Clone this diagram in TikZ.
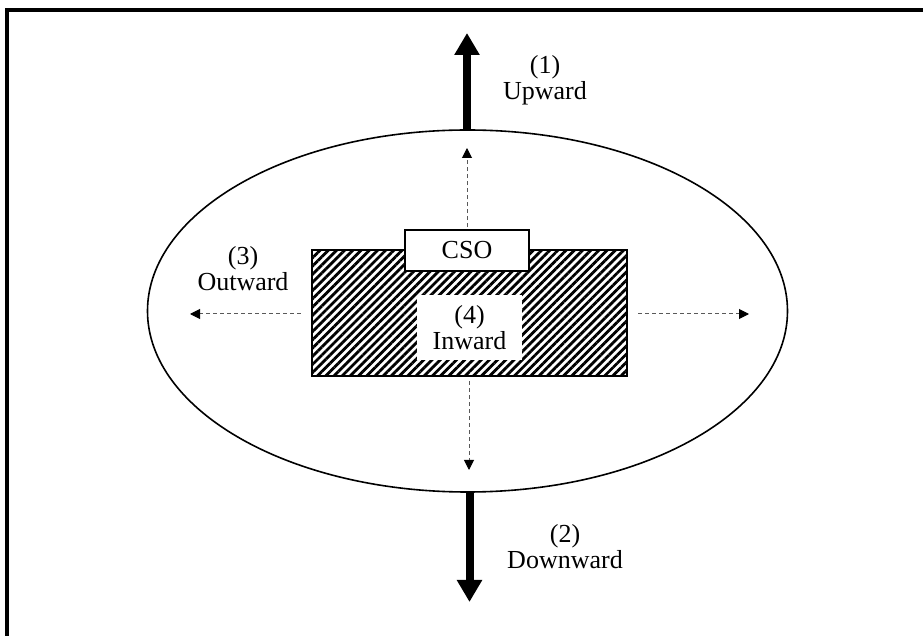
\documentclass[tikz,border=0pt]{standalone}
\usepackage{fontspec}
\setmainfont{Liberation Serif}
\usetikzlibrary{arrows.meta,shapes.geometric,patterns.meta}

\begin{document}
\begin{tikzpicture}[x=0.5pt,y=-0.5pt,font=\fontsize{13}{13}\selectfont,line cap=butt,
  bigarrow/.style={line width=4pt,-{Triangle[length=11pt,width=12pt]}},
  dasharrow/.style={gray!70!black,line width=0.5pt,dash pattern=on 2pt off 1.5pt,-{Triangle[length=5pt,width=5pt,black]}},
  label/.style={align=center,inner sep=0pt}]
\useasboundingbox (0,0) rectangle (923,636);
\draw[line width=2pt] (6.5,10.5) rectangle (940,660);
% disturbance zone
\node[draw,ellipse,line width=0.8pt,minimum width=320pt,minimum height=181pt,inner sep=0pt] (zone) at (467.5,311) {};
\node[draw,line width=1pt,pattern={Lines[angle=45,distance=2.9pt,line width=1.4pt]},minimum width=157.5pt,minimum height=63pt,inner sep=0pt] (site) at (469.5,313) {};
\node[draw,fill=white,line width=0.8pt,minimum width=62pt,minimum height=20.5pt,inner sep=0pt] (cso) at (467,250.5) {CSO};
\node[fill=white,minimum width=52.5pt,minimum height=32.5pt,align=center,inner sep=0pt] (inward) at (469.5,327.5) {(4)\\Inward};
% free ends of the arrows
\coordinate (uptip) at (467,33);
\coordinate (downtip) at (469.5,602);
\coordinate (dup) at (467,148);
\coordinate (ddown) at (469,470);
\coordinate (dleft) at (190,314);
\coordinate (dright) at (749,314);
\draw[bigarrow] (zone.north -| uptip) -- (uptip);
\draw[bigarrow] (zone.south -| downtip) -- (downtip);
\draw[dasharrow,shorten <=1pt] (cso.north) -- (dup);
\draw[dasharrow,shorten <=2pt] (site.south -| ddown) -- (ddown);
\draw[dasharrow,shorten <=5pt] (site.west |- dleft) -- (dleft);
\draw[dasharrow,shorten <=5pt] (site.east |- dright) -- (dright);
% labels
\node[label] (up) at (545,80) {(1)\\Upward};
\node[label] (down) at (565,547) {(2)\\Downward};
\node[label] (out) at (243,269) {(3)\\Outward};
\end{tikzpicture}
\end{document}
